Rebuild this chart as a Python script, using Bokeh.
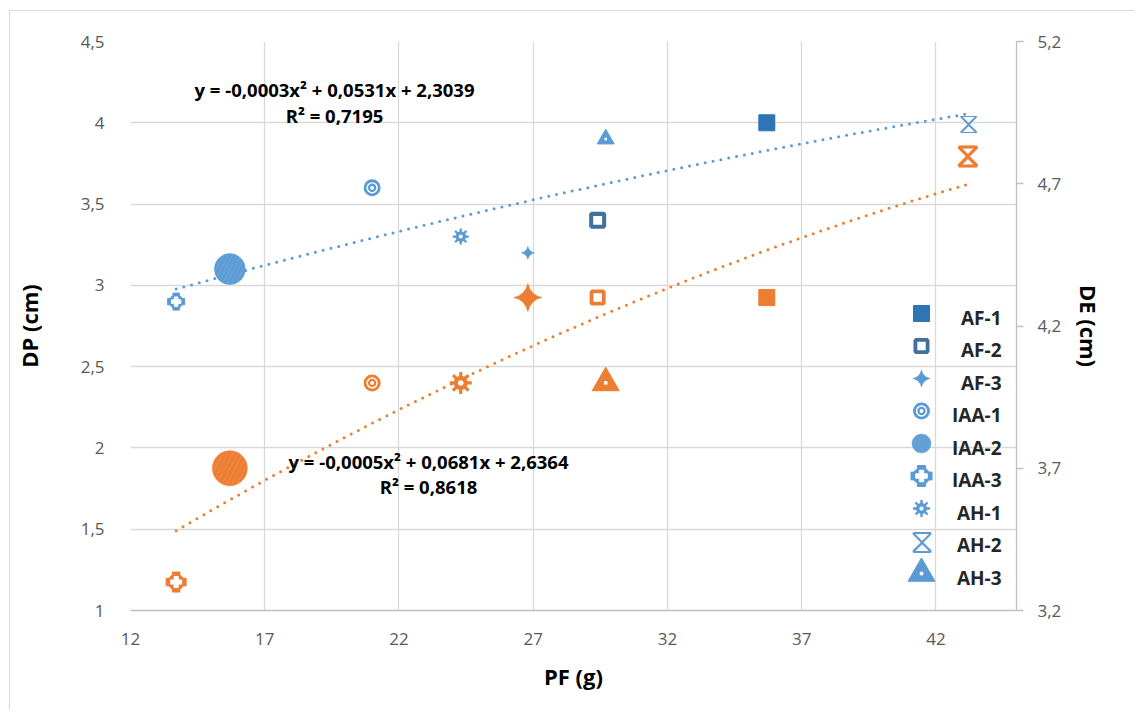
import numpy as np
from bokeh.plotting import figure
from bokeh.models import Range1d, LinearAxis, FixedTicker, CustomJSTickFormatter, ColumnDataSource
from bokeh.core.properties import value
from bokeh.embed import file_html
from bokeh.resources import INLINE

# ---------------- data ----------------
treatments = ["AF-1", "AF-2", "AF-3", "IAA-1", "IAA-2", "IAA-3", "AH-1", "AH-2", "AH-3"]
pf = [35.7, 29.4, 26.8, 21.0, 15.7, 13.7, 24.3, 43.2, 29.7]      # PF (g)
dp = [4.0, 3.4, 3.2, 3.6, 3.1, 2.9, 3.3, 4.0, 3.9]               # DP (cm), left axis
de = [4.3, 4.3, 4.3, 4.0, 3.7, 3.3, 4.0, 4.8, 4.0]               # DE (cm), right axis

dp_eq = ["y = -0,0003x² + 0,0531x + 2,3039", "R² = 0,7195"]
de_eq = ["y = -0,0005x² + 0,0681x + 2,6364", "R² = 0,8618"]

x_ticks = [12, 17, 22, 27, 32, 37, 42]
dp_ticks = [1, 1.5, 2, 2.5, 3, 3.5, 4, 4.5]
de_ticks = [3.2, 3.7, 4.2, 4.7, 5.2]

# ---------------- styles ----------------
BLUE = "#5B9BD5"
ORANGE = "#ED7D31"
blue_color = {"AF-1": "#2E75B6", "AF-2": "#41719C"}
blue_size = {"AF-1": 16, "AF-2": 17, "AF-3": 13, "IAA-1": 17, "IAA-2": 31,
             "IAA-3": 17, "AH-1": 16, "AH-2": 15, "AH-3": 17}
orange_size = {"AF-1": 16, "AF-2": 16, "AF-3": 28, "IAA-1": 17, "IAA-2": 35,
               "IAA-3": 20, "AH-1": 22, "AH-2": 20, "AH-3": 27}
legend_size = {"AF-1": 16, "AF-2": 16, "AF-3": 17, "IAA-1": 17, "IAA-2": 19,
               "IAA-3": 21, "AH-1": 17, "AH-2": 17, "AH-3": 27}

FONT = "Open Sans"
TICK_COLOR = "#595959"
GRID = "#D9D9D9"
AXIS = "#BFBFBF"

p = figure(width=1125, height=700, x_range=Range1d(12, 45), y_range=Range1d(1, 4.5),
           output_backend="svg", toolbar_location=None,
           min_border_left=120, min_border_right=119, min_border_top=30, min_border_bottom=101,
           styles={"border-left": "1px solid #D9D9D9", "border-top": "1px solid #D9D9D9",
                   "margin-left": "9px", "margin-top": "10px"})
p.extra_y_ranges = {"de": Range1d(3.2, 5.2), "py": Range1d(610, 41)}
p.extra_x_ranges = {"px": Range1d(130, 1016)}
p.outline_line_color = None
p.background_fill_color = "white"
p.border_fill_color = "white"

fmt = CustomJSTickFormatter(code="return (Math.round(tick*10)/10).toString().replace('.', ',');")

# x axis
xa = p.xaxis[0]
xa.ticker = FixedTicker(ticks=x_ticks)
xa.axis_label = "PF (g)"
xa.axis_line_color = AXIS
xa.axis_line_width = 1.3
xa.major_tick_line_color = None
xa.minor_tick_line_color = None
xa.major_label_standoff = 16
xa.axis_label_standoff = 13

# left axis
ya = p.yaxis[0]
ya.ticker = FixedTicker(ticks=dp_ticks)
ya.formatter = fmt
ya.axis_label = "DP (cm)"
ya.axis_line_color = None
ya.major_tick_line_color = None
ya.minor_tick_line_color = None
ya.major_label_standoff = 20
ya.axis_label_standoff = 34

# right axis
ra = LinearAxis(y_range_name="de", ticker=FixedTicker(ticks=de_ticks), formatter=fmt,
                axis_label="DE (cm)")
ra.axis_line_color = AXIS
ra.axis_line_width = 1.3
ra.major_tick_line_color = AXIS
ra.major_tick_line_width = 1.3
ra.major_tick_out = 7
ra.major_tick_in = 0
ra.minor_tick_line_color = None
ra.major_label_standoff = 14
ra.axis_label_standoff = 10
p.add_layout(ra, "right")

for ax in [xa, ya, ra]:
    ax.major_label_text_font = FONT
    ax.major_label_text_font_size = "17px"
    ax.major_label_text_color = TICK_COLOR
    ax.axis_label_text_font = FONT
    ax.axis_label_text_font_size = "22px"
    ax.axis_label_text_font_style = "bold"
    ax.axis_label_text_color = "#000000"

p.xgrid.ticker = FixedTicker(ticks=x_ticks)
p.ygrid.ticker = FixedTicker(ticks=dp_ticks)
for g in [p.xgrid[0], p.ygrid[0]]:
    g.grid_line_color = GRID
    g.grid_line_width = 1.3

# ---------------- polynomial (order 2) trendlines fitted to the points ----------------
xs = np.linspace(min(pf), max(pf), 200)
dp_fit = np.polyfit(pf, dp, 2)
de_fit = np.polyfit(pf, de, 2)
p.line(xs, np.polyval(dp_fit, xs), line_color=BLUE, line_width=3,
       line_dash="0 8", line_cap="round")
p.line(xs, np.polyval(de_fit, xs), line_color=ORANGE, line_width=3,
       line_dash="0 8", line_cap="round", y_range_name="de")


# ---------------- markers ----------------
def draw_marker(kind, x, y, color, s, xr="default", yr="default", heavy=False):
    src = ColumnDataSource(dict(x=[x], y=[y]))
    kw = dict(source=src, x_range_name=xr, y_range_name=yr)
    if kind == "AF-1":
        p.scatter("x", "y", marker="square", size=s, fill_color=color, line_color=color, **kw)
    elif kind == "AF-2":
        lw = max(3.5, s / 4.2)
        p.scatter("x", "y", marker="square", size=s - lw, fill_color="white",
                  line_color=color, line_width=lw, **kw)
    elif kind == "AF-3":
        p.scatter("x", "y", marker="square_pin", size=s / 1.414, angle=np.pi / 4,
                  fill_color=color, line_color=color, line_width=0.5, **kw)
    elif kind == "IAA-1":
        lw = s / 6.0
        p.scatter("x", "y", marker="circle", size=s - lw, fill_color="white",
                  line_color=color, line_width=lw, **kw)
        p.scatter("x", "y", marker="circle", size=s * 0.36, fill_color="white",
                  line_color=color, line_width=lw * 0.8, **kw)
    elif kind == "IAA-2":
        p.scatter("x", "y", marker="circle", size=s, fill_color=color, line_color=color,
                  line_alpha=0.5, hatch_pattern="/", hatch_color="white", hatch_alpha=0.12,
                  hatch_scale=s / 3.5, hatch_weight=1, **kw)
    elif kind == "IAA-3":
        p.scatter("x", "y", marker="plus", size=s, fill_color=color, line_color=color, **kw)
        p.scatter("x", "y", marker="circle", size=s * 0.8, fill_color=color, line_color=color, **kw)
        p.scatter("x", "y", marker="plus", size=s * 0.55, fill_color="white", line_color="white", **kw)
    elif kind == "AH-1":
        p.scatter("x", "y", marker="asterisk", size=s, line_color=color, line_width=s / 7.0, **kw)
        p.scatter("x", "y", marker="circle", size=s * 0.6, fill_color=color, line_color=color, **kw)
        p.scatter("x", "y", marker="circle", size=s * 0.25, fill_color="white", line_color=None, **kw)
    elif kind == "AH-2":
        src.data["t"] = ["⧖"]
        p.text("x", "y", text="t", text_font=value("DejaVu Sans"),
               text_font_size=f"{s * (1.7 if heavy else 2.0):.0f}px",
               text_font_style="bold" if heavy else "normal",
               text_color=color, text_align="center", text_baseline="middle", **kw)
    elif kind == "AH-3":
        p.scatter("x", "y", marker="triangle", size=s, fill_color=color, line_color=color, **kw)
        p.scatter("x", "y", marker="square", size=max(2.5, s * 0.13), fill_color="white",
                  line_color=None, **kw)


for i, t in enumerate(treatments):
    draw_marker(t, pf[i], de[i], ORANGE, orange_size[t], yr="de", heavy=True)
for i, t in enumerate(treatments):
    draw_marker(t, pf[i], dp[i], blue_color.get(t, BLUE), blue_size[t])

# ---------------- legend (pixel layout) ----------------
leg_rows = [317 + 32.5 * i for i in range(len(treatments))]
for i, t in enumerate(treatments):
    draw_marker(t, 921, leg_rows[i] - 4, blue_color.get(t, BLUE), legend_size[t], xr="px", yr="py")
p.text(x=[1001] * len(treatments), y=leg_rows, text=treatments, x_range_name="px", y_range_name="py",
       text_font=value(FONT), text_font_style="bold", text_font_size="19px", text_color="#262626",
       text_align="right", text_baseline="middle")

# ---------------- trendline equations ----------------
p.text(x=[334, 334], y=[89, 115], text=dp_eq, x_range_name="px", y_range_name="py",
       text_font=value(FONT), text_font_style="bold", text_font_size="18.5px", text_color="#000000",
       text_align="center", text_baseline="middle")
p.text(x=[428, 428], y=[461, 486], text=de_eq, x_range_name="px", y_range_name="py",
       text_font=value(FONT), text_font_style="bold", text_font_size="18.5px", text_color="#000000",
       text_align="center", text_baseline="middle")

open("out.html", "w").write(file_html(p, INLINE))
